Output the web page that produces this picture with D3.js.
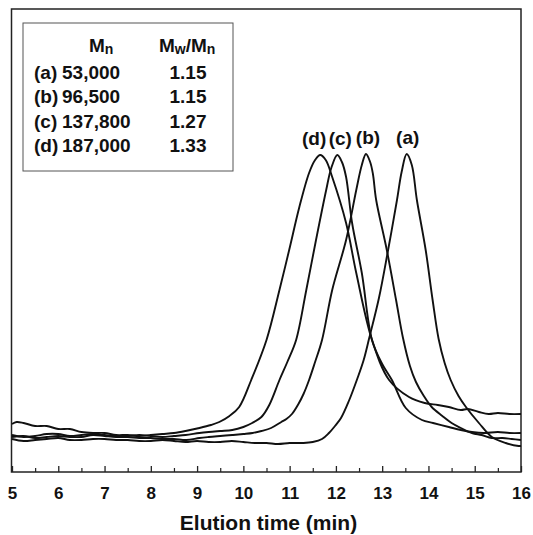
<!DOCTYPE html>
<html>
<head>
<meta charset="utf-8">
<script src="https://cdn.jsdelivr.net/npm/d3@7/dist/d3.min.js"></script>
<style>
  html, body { margin: 0; padding: 0; background: #fff; }
  svg { display: block; font-family: "Liberation Sans", Arial, sans-serif; }
</style>
</head>
<body>
<svg id="chart" width="533" height="535"></svg>
<script>
// ---- Data (elution time in min, detector response in arbitrary units) ----
const seriesA = [[5.0,3.3],[5.25,3.1],[5.5,3.2],[5.75,3.3],[6.0,3.4],[6.25,3.2],[6.5,3.2],[6.75,3.3],[7.0,3.3],[7.25,3.2],
  [7.5,3.2],[7.75,3.1],[8.0,3.1],[8.25,3.2],[8.5,3.1],[8.75,3.0],[9.0,3.1],[9.25,3.0],[9.5,3.0],[9.75,3.1],
  [10.0,3.0],[10.25,2.9],[10.5,2.9],[10.75,2.8],[11.0,2.9],[11.3,2.9],[11.5,3.0],[11.7,3.3],[11.85,3.9],[11.98,4.6],
  [12.11,5.4],[12.28,7.1],[12.46,9.3],[12.6,11.2],[12.72,13.4],[12.93,17.4],[13.12,22.0],[13.32,27.2],[13.42,30.0],[13.53,31.8],
  [13.64,30.7],[13.75,27.2],[13.94,22.2],[14.09,17.2],[14.22,13.3],[14.35,10.9],[14.48,9.2],[14.65,7.6],[14.81,6.5],[15.09,4.9],
  [15.37,3.5],[15.67,2.9],[15.95,2.6],[16.0,2.6]];
const seriesB = [[5.0,3.5],[5.25,3.6],[5.5,3.4],[5.75,3.5],[6.0,3.6],[6.25,3.5],[6.5,3.5],[6.75,3.7],[7.0,3.6],[7.25,3.5],
  [7.5,3.5],[7.75,3.4],[8.0,3.4],[8.25,3.3],[8.5,3.3],[8.77,3.2],[9.05,3.4],[9.25,3.5],[9.5,3.6],[9.76,3.7],
  [10.0,3.8],[10.2,3.9],[10.39,4.1],[10.6,4.4],[10.82,5.0],[10.93,5.3],[11.05,5.8],[11.19,6.8],[11.3,7.8],[11.42,9.2],
  [11.55,11.0],[11.7,13.2],[11.92,18.2],[12.22,23.2],[12.44,28.2],[12.56,30.7],[12.65,31.8],[12.74,31.0],[12.8,29.8],[12.87,27.2],
  [13.1,22.2],[13.3,17.2],[13.45,13.4],[13.6,10.6],[13.73,9.0],[13.9,7.6],[14.07,6.5],[14.3,5.6],[14.5,4.9],[14.7,4.4],
  [14.94,3.9],[15.15,3.7],[15.37,3.4],[15.6,3.4],[15.8,3.3],[16.0,3.2]];
const seriesC = [[5.0,3.7],[5.25,3.5],[5.5,3.6],[5.75,3.8],[6.0,3.8],[6.25,3.6],[6.5,3.7],[6.75,3.8],[7.0,3.7],[7.25,3.6],
  [7.5,3.6],[7.75,3.7],[8.0,3.6],[8.25,3.5],[8.5,3.6],[8.75,3.7],[9.05,3.9],[9.25,4.0],[9.5,4.1],[9.76,4.2],
  [10.0,4.5],[10.19,4.9],[10.39,5.5],[10.56,6.7],[10.78,9.2],[10.95,11.0],[11.14,13.2],[11.36,18.2],[11.57,23.2],[11.79,28.2],
  [11.9,30.4],[12.03,31.7],[12.13,31.0],[12.22,29.5],[12.35,24.9],[12.56,19.9],[12.78,13.2],[13.0,10.8],[13.21,9.2],[13.51,6.4],
  [13.86,5.2],[14.1,4.9],[14.44,4.5],[14.7,4.2],[14.94,4.0],[15.2,3.9],[15.5,4.0],[15.75,3.9],[16.0,3.9]];
const seriesD = [[5.0,4.8],[5.1,5.0],[5.25,4.9],[5.5,4.6],[5.75,4.6],[6.0,4.3],[6.25,4.3],[6.5,4.0],[6.75,3.9],[7.0,3.9],
  [7.25,3.7],[7.5,3.7],[7.75,3.6],[8.0,3.7],[8.25,3.8],[8.5,3.9],[8.75,4.1],[9.05,4.4],[9.3,4.7],[9.48,5.0],
  [9.7,5.6],[9.91,6.5],[10.17,9.2],[10.5,13.2],[10.78,18.2],[10.99,22.2],[11.21,26.5],[11.42,29.9],[11.55,31.2],[11.66,31.7],
  [11.78,31.2],[11.92,29.5],[12.22,24.9],[12.44,19.9],[12.78,13.2],[13.15,9.2],[13.58,7.5],[13.92,6.9],[14.2,6.7],[14.44,6.5],
  [14.7,6.2],[14.85,6.3],[15.09,6.0],[15.3,5.8],[15.5,5.9],[15.75,5.8],[16.0,5.8]];

const seriesNames = ["(a)", "(b)", "(c)", "(d)"];
const seriesData = [seriesA, seriesB, seriesC, seriesD];
const mnValues = ["53,000", "96,500", "137,800", "187,000"];
const pdiValues = ["1.15", "1.15", "1.27", "1.33"];
const xTicks = [5, 6, 7, 8, 9, 10, 11, 12, 13, 14, 15, 16];
const xMinorTicks = [5.5, 6.5, 7.5, 8.5, 9.5, 10.5, 11.5, 12.5, 13.5, 14.5, 15.5];
const xTitle = "Elution time (min)";

// ---- Layout ----
const svg = d3.select("#chart");
const L = 12, R = 521, T = 9, B = 472;
const x = d3.scaleLinear().domain([5, 16]).range([L, R]);
const y = d3.scaleLinear().domain([0, 46.3]).range([B, T]);

// frame
svg.append("rect").attr("x", L - 0.5).attr("y", T).attr("width", R - L + 0.5).attr("height", B - T)
  .attr("fill", "none").attr("stroke", "#222").attr("stroke-width", 1.5);

// bottom axis (major ticks inward)
const gx = svg.append("g").attr("transform", `translate(0,${B})`)
  .call(d3.axisBottom(x).tickValues(xTicks).tickFormat(d3.format("d"))
    .tickSizeInner(-6).tickSizeOuter(0).tickPadding(15));
gx.select(".domain").remove();
gx.selectAll(".tick line").attr("stroke", "#222").attr("stroke-width", 1.3);
gx.selectAll(".tick text").attr("fill", "#111").attr("font-size", 17).attr("font-weight", "bold")
  .attr("font-family", "Liberation Sans, Arial, sans-serif");

const gxm = svg.append("g").attr("transform", `translate(0,${B})`)
  .call(d3.axisBottom(x).tickValues(xMinorTicks).tickFormat("").tickSizeInner(-4).tickSizeOuter(0));
gxm.select(".domain").remove();
gxm.selectAll(".tick line").attr("stroke", "#222").attr("stroke-width", 1.2);

// axis title
svg.append("text").attr("x", (L + R) / 2 + 2).attr("y", 530).attr("text-anchor", "middle")
  .attr("font-size", 21).attr("font-weight", "bold").attr("fill", "#111").text(xTitle);

// curves
const line = d3.line().x(d => x(d[0])).y(d => y(d[1])).curve(d3.curveCatmullRom.alpha(0.5));
svg.append("g").selectAll("path").data(seriesData).join("path")
  .attr("d", line).attr("fill", "none").attr("stroke", "#111").attr("stroke-width", 1.9)
  .attr("stroke-linejoin", "round");

// peak labels above each peak
const labelOffsets = [1, 2, 3, -6];
seriesData.forEach((s, i) => {
  const peak = s.reduce((a, b) => (b[1] > a[1] ? b : a));
  svg.append("text").attr("x", x(peak[0]) + labelOffsets[i]).attr("y", y(peak[1]) - 10)
    .attr("text-anchor", "middle").attr("font-size", 19).attr("font-weight", "bold")
    .attr("fill", "#111").text(seriesNames[i]);
});

// legend table
const lg = svg.append("g");
lg.append("rect").attr("x", 23).attr("y", 23).attr("width", 210).attr("height", 148)
  .attr("fill", "#fff").attr("stroke", "#555").attr("stroke-width", 1);
const hdr1 = lg.append("text").attr("x", 89).attr("y", 52).attr("font-size", 19).attr("font-weight", "bold").attr("fill", "#111");
hdr1.append("tspan").text("M");
hdr1.append("tspan").attr("font-size", 14).attr("dy", 2).text("n");
const hdr2 = lg.append("text").attr("x", 159).attr("y", 52).attr("font-size", 19).attr("font-weight", "bold").attr("fill", "#111");
hdr2.append("tspan").text("M");
hdr2.append("tspan").attr("font-size", 14).attr("dy", 2).text("w");
hdr2.append("tspan").attr("dy", -2).text("/M");
hdr2.append("tspan").attr("font-size", 14).attr("dy", 2).text("n");

const rowY = [79, 103, 128, 152];
seriesNames.forEach((n, i) => {
  lg.append("text").attr("x", 34).attr("y", rowY[i]).attr("font-size", 19).attr("font-weight", "bold")
    .attr("fill", "#111").text(n);
  lg.append("text").attr("x", 62).attr("y", rowY[i]).attr("font-size", 19).attr("font-weight", "bold")
    .attr("fill", "#111").text(mnValues[i]);
  lg.append("text").attr("x", 188).attr("y", rowY[i]).attr("text-anchor", "middle").attr("font-size", 19)
    .attr("font-weight", "bold").attr("fill", "#111").text(pdiValues[i]);
});
</script>
</body>
</html>
